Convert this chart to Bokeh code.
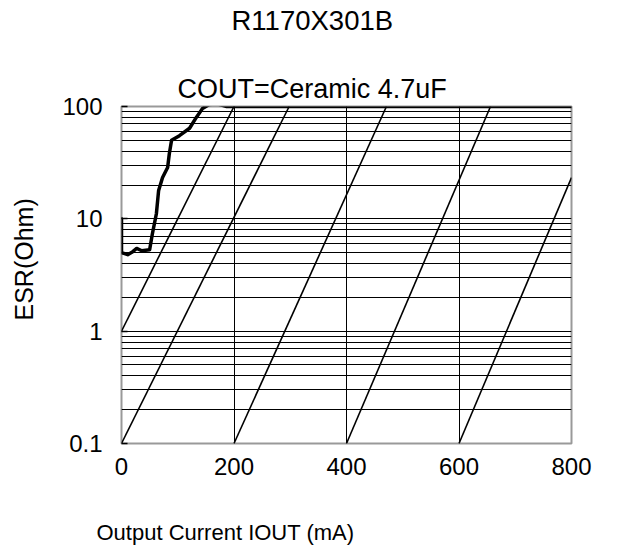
import math
from bokeh.plotting import figure
from bokeh.models import FixedTicker, Title, CustomJSTickFormatter
from bokeh.embed import file_html
from bokeh.resources import INLINE

# ---- data ----
esr_x = [0, 0, 11, 20, 27, 36, 50, 55, 62, 66, 73, 82, 85, 89, 103, 121, 133, 144, 156, 169, 187, 800]
esr_y = [10, 5.0, 4.8, 5.1, 5.45, 5.2, 5.3, 7.4, 11.1, 17.9, 23.3, 28.6, 38, 50, 55, 64, 80, 96, 104, 106, 100, 100]

# diagonal reference lines (start / end points)
diag_x0 = [0, 0, 200, 400, 600]
diag_y0 = [1, 0.1, 0.1, 0.1, 0.1]
diag_x1 = [200, 298, 471, 656, 800]
diag_y1 = [100, 100, 100, 100, 23.3]

x_ticks = [0, 200, 400, 600, 800]
y_ticks = [0.1, 1, 10, 100]
y_minor = [m * d for d in (0.1, 1, 10) for m in range(2, 10)]

title_text = "R1170X301B"
subtitle_text = "COUT=Ceramic 4.7uF"
x_label = "Output Current IOUT (mA)"
y_label = "ESR(Ohm)"

FONT = "Liberation Sans"

p = figure(width=609, height=545, x_range=(0, 800), y_range=(0.1, 100),
           y_axis_type="log", output_backend="svg", toolbar_location=None,
           title=None, min_border_left=121, min_border_right=38,
           min_border_top=106, min_border_bottom=102)

p.background_fill_color = "white"
p.border_fill_color = "white"
p.outline_line_color = "#999999"
p.outline_line_width = 2

p.xaxis.ticker = FixedTicker(ticks=x_ticks)
p.yaxis.ticker = FixedTicker(ticks=y_ticks, minor_ticks=y_minor)
p.yaxis.formatter = CustomJSTickFormatter(code="return String(tick)")

for ax in (p.xaxis, p.yaxis):
    ax.axis_line_color = None
    ax.minor_tick_line_color = None
    ax.minor_tick_in = 0
    ax.minor_tick_out = 0
    ax.major_label_text_font = FONT
    ax.major_label_text_color = "black"
    ax.major_label_text_font_size = "24px"

p.xaxis.major_tick_line_color = None
p.xaxis.major_tick_in = 0
p.xaxis.major_tick_out = 0
p.xaxis.major_label_standoff = 14

p.yaxis.major_tick_in = 6
p.yaxis.major_tick_out = 0
p.yaxis.major_tick_line_color = "black"
p.yaxis.major_tick_line_width = 1.5
p.yaxis.major_label_standoff = 19

p.xgrid.grid_line_color = "black"
p.xgrid.grid_line_width = 1
p.ygrid.grid_line_color = "black"
p.ygrid.grid_line_width = 1
p.ygrid.minor_grid_line_color = "black"
p.ygrid.minor_grid_line_width = 1

p.segment(x0=diag_x0, y0=diag_y0, x1=diag_x1, y1=diag_y1, line_color="black", line_width=1.6)
p.line(esr_x, esr_y, line_color="black", line_width=3.5, line_join="round", line_cap="round")


def add_title(text, size, place, offset=0, standoff=0):
    p.add_layout(Title(text=text, text_font=FONT, text_font_size=size,
                       text_font_style="normal", text_color="black",
                       align="left", offset=offset,
                       standoff=standoff, vertical_align="bottom"), place)


# above: subtitle (closest to frame), blank spacer, main title
add_title(subtitle_text, "27px", "above", offset=56, standoff=6)
add_title(" ", "10px", "above", standoff=19)
add_title(title_text, "27.5px", "above", offset=110, standoff=2)

# below: axis, blank spacer, axis title
add_title(" ", "10px", "below", standoff=26)
add_title(x_label, "22px", "below", offset=-25, standoff=2)

# left: axis, blank spacer, axis title
add_title(" ", "10px", "left", standoff=8)
add_title(y_label, "25px", "left", offset=123, standoff=2)

open("out.html", "w").write(file_html(p, INLINE))
